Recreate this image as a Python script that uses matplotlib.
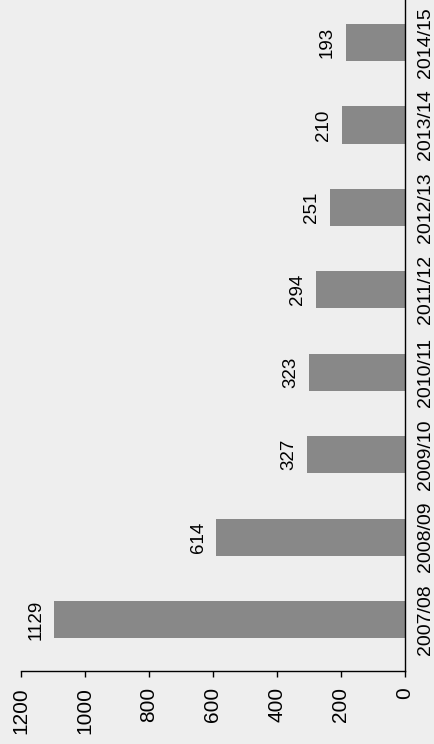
import matplotlib
matplotlib.use("Agg")
import matplotlib.pyplot as plt

# data
seasons = ["2007/08", "2008/09", "2009/10", "2010/11",
           "2011/12", "2012/13", "2013/14", "2014/15"]
bar_values = [1095, 589, 306, 300, 278, 235, 197, 185]
value_labels = ["1129", "614", "327", "323", "294", "251", "210", "193"]
x_ticks = [0, 200, 400, 600, 800, 1000, 1200]

plt.rcParams['font.family'] = ['Liberation Sans', 'DejaVu Sans']

bg = '#eeeeee'
fig = plt.figure(figsize=(4.35, 7.44), dpi=100, facecolor=bg)
ax = fig.add_axes([0.0476, 0.0981, 0.8834, 0.9019])
ax.set_facecolor(bg)

pos = list(range(len(seasons)))
ax.barh(pos, bar_values, height=0.45, color='#888888')

for p, v, lab in zip(pos, bar_values, value_labels):
    ax.annotate(lab, (v, p), xytext=(-7, 0), textcoords='offset points',
                rotation=90, ha='right', va='center', fontsize=13.5)

ax.set_xlim(1200, 0)
ax.set_ylim(-0.625, 7.516)

ax.set_xticks(x_ticks)
ax.set_xticklabels([str(t) for t in x_ticks], rotation=90, fontsize=15)
ax.tick_params(axis='x', length=4.5, width=1, pad=7)

ax.yaxis.tick_right()
ax.set_yticks(pos)
ax.set_yticklabels(seasons, rotation=90, va='center', fontsize=14)
ax.tick_params(axis='y', length=0, pad=9)

ax.spines['top'].set_visible(False)
ax.spines['left'].set_visible(False)
ax.spines['right'].set_linewidth(1)
ax.spines['bottom'].set_linewidth(1)

fig.savefig('out.png', dpi=100, facecolor=bg)
